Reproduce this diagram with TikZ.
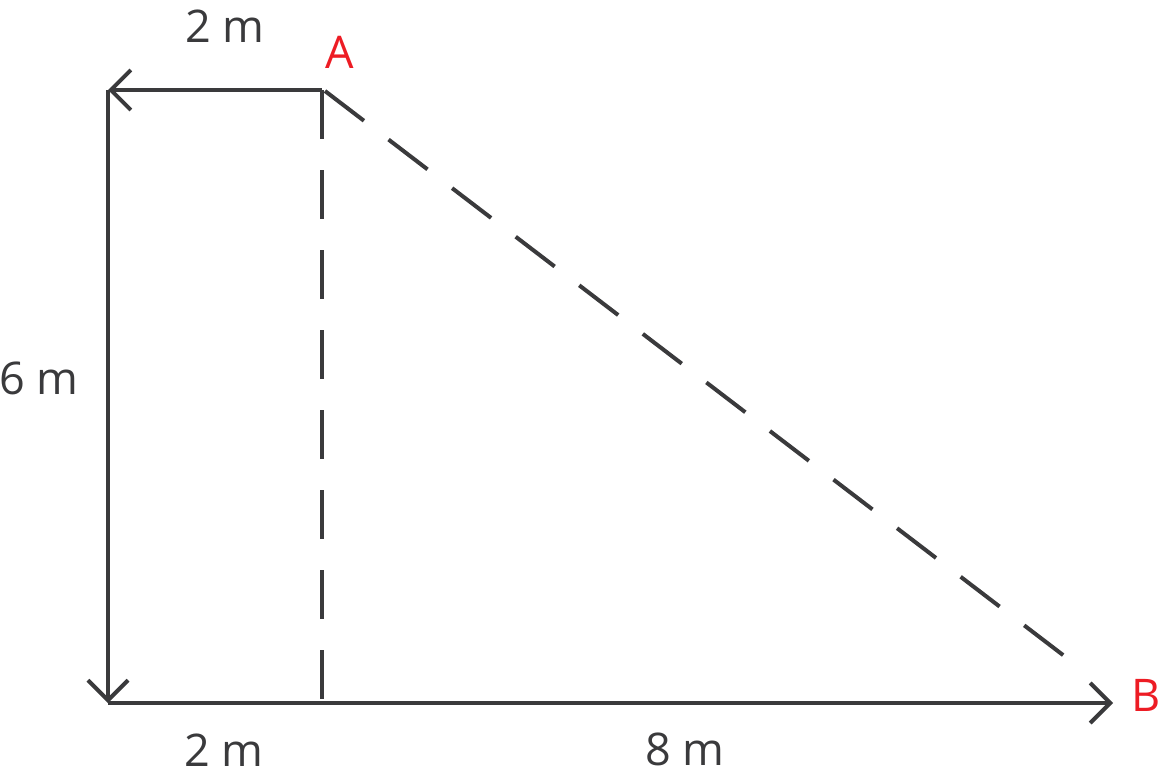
\documentclass[tikz,border=0pt]{standalone}
\usepackage{fontspec}
\setmainfont{Open Sans}
\usetikzlibrary{arrows.meta}
\definecolor{linegray}{RGB}{58,58,60}
\definecolor{labelred}{RGB}{237,28,36}

\begin{document}
\begin{tikzpicture}[x = 1pt, y = -1pt,
    arrowline/.style = {draw = linegray, line width = 4pt,
        -{Straight Barb[length = 20pt, width = 40pt, line cap = butt, line join = miter]}},
    dashline/.style = {draw = linegray, line width = 4pt, dash pattern = on 49pt off 31pt},
    measure/.style = {text = linegray, font = \fontsize{45}{54}\selectfont, inner sep = 0pt},
    corner/.style = {text = labelred, font = \fontsize{45}{54}\selectfont, inner sep = 0pt}]
    \useasboundingbox (0,0) rectangle (1160,779);
    \coordinate (TL) at (108,90);
    \coordinate (A) at (322,90);
    \coordinate (O) at (108,703);
    \coordinate (F) at (322,703);
    \coordinate (B) at (1113,703);
    \coordinate (Bend) at (1080,668);
    \draw[arrowline] (A) -- (TL);
    \draw[arrowline] (TL) -- (O);
    \draw[arrowline] (O) -- (B);
    \draw[dashline] (A) -- (F);
    \draw[dashline] (325,91) -- (Bend);
    \node[corner] (LA) at (339.5,52.5) {A};
    \node[corner] (LB) at (1146,695) {B};
    \node[measure] (Ltop) at (225,26.5) {2 m};
    \node[measure] (Lleft) at (39,378) {6 m};
    \node[measure] (Lbot) at (224,750) {2 m};
    \node[measure] (Lbase) at (685,749.5) {8 m};
\end{tikzpicture}
\end{document}
